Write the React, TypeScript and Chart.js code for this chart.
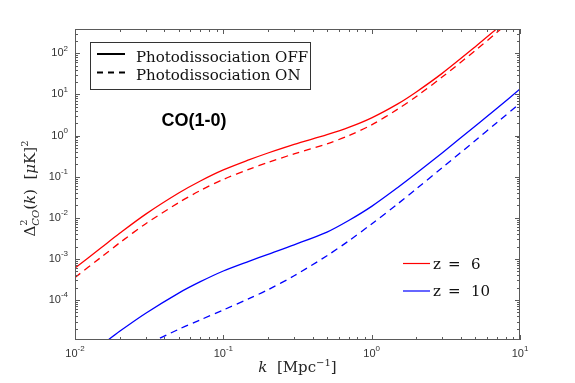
import { useEffect, useRef } from 'react';
import { Chart, registerables } from 'chart.js';

Chart.register(...registerables);

// ---- data ----
const kValues = [0.01, 0.015, 0.02, 0.03, 0.05, 0.07, 0.1, 0.15, 0.2, 0.3, 0.5, 0.7, 1, 1.5, 2, 3, 5, 7, 10];

// z = 6
const z6Off = [6.0e-4, 1.87e-3, 4.2e-3, 0.0123, 0.040, 0.0785, 0.146, 0.259, 0.377, 0.612, 1.05, 1.58, 2.7, 5.9, 11.5, 33, 145, 400, 1170];
const z6On = [3.55e-4, 1.1e-3, 2.47e-3, 7.2e-3, 0.0234, 0.0462, 0.0859, 0.153, 0.222, 0.36, 0.63, 1.0, 1.82, 4.4, 8.9, 26.8, 117, 324, 955];

// z = 10
const z10Off = [2.5e-6, 7.9e-6, 1.74e-5, 4.8e-5, 1.48e-4, 2.8e-4, 5.1e-4, 8.9e-4, 1.3e-3, 2.21e-3, 4.5e-3, 8.6e-3, 0.019, 0.0547, 0.121, 0.384, 1.71, 4.6, 13.6];
const z10On = [1.0e-6, 1.8e-6, 3.2e-6, 7.9e-6, 1.95e-5, 3.3e-5, 5.75e-5, 1.1e-4, 1.78e-4, 3.9e-4, 1.2e-3, 2.75e-3, 7.1e-3, 0.0219, 0.0505, 0.167, 0.76, 2.08, 6.1];

const xTickExponents = [-2, -1, 0, 1];
const yTickExponents = [-4, -3, -2, -1, 0, 1, 2];
const xRange = [0.01, 10];
const yRange = [1.07e-5, 390];

const styleLegendLabels = ['Photodissociation OFF', 'Photodissociation ON'];
const redshiftLabels = ['6', '10'];
const annotationText = 'CO(1-0)';

const RED = '#ff0000';
const BLUE = '#0000ff';
const SANS = '"Liberation Sans", Arial, Helvetica, sans-serif';
const SERIF = '"DejaVu Serif", "Liberation Serif", serif';

function toPoints(ks: number[], ys: number[]) {
  return ks.map((k, i) => ({ x: k, y: ys[i] }));
}

function drawPower(ctx: CanvasRenderingContext2D, exp: number, x: number, y: number, align: 'right' | 'center') {
  const base = '10';
  const sup = String(exp);
  ctx.font = `11px ${SANS}`;
  const wb = ctx.measureText(base).width;
  ctx.font = `8px ${SANS}`;
  const ws = ctx.measureText(sup).width;
  const w = wb + ws;
  const x0 = align === 'right' ? x - w : x - w / 2;
  ctx.textAlign = 'left';
  ctx.textBaseline = 'middle';
  ctx.font = `11px ${SANS}`;
  ctx.fillText(base, x0, y);
  ctx.font = `8px ${SANS}`;
  ctx.fillText(sup, x0 + wb, y - 5);
}

type Piece = { t: string; f: string; dy: number; stack?: boolean };

function drawPieces(ctx: CanvasRenderingContext2D, pieces: Piece[], cx: number, baseline: number) {
  const widths = pieces.map((p) => {
    ctx.font = p.f;
    return ctx.measureText(p.t).width;
  });
  let total = 0;
  pieces.forEach((p, i) => {
    if (p.stack) return;
    if (i > 0 && pieces[i - 1].stack) total += Math.max(widths[i], widths[i - 1]);
    else total += widths[i];
  });
  let x = cx - total / 2;
  ctx.textAlign = 'left';
  ctx.textBaseline = 'alphabetic';
  pieces.forEach((p, i) => {
    ctx.font = p.f;
    ctx.fillText(p.t, x, baseline + p.dy);
    if (p.stack) return;
    if (i > 0 && pieces[i - 1].stack) x += Math.max(widths[i], widths[i - 1]);
    else x += widths[i];
  });
}

const framePlugin = {
  id: 'frame',
  beforeDraw(chart: any) {
    const { ctx } = chart;
    ctx.save();
    ctx.fillStyle = '#ffffff';
    ctx.fillRect(0, 0, chart.width, chart.height);
    ctx.restore();
  },
  afterDraw(chart: any) {
    const { ctx, chartArea } = chart;
    const { left, right, top, bottom } = chartArea;
    const xs = chart.scales.x;
    const ys = chart.scales.y;
    ctx.save();
    // frame
    ctx.strokeStyle = '#5a5a5a';
    ctx.lineWidth = 1;
    ctx.strokeRect(left + 0.5, top + 0.5, right - left - 1, bottom - top - 1);
    // ticks
    ctx.beginPath();
    const lx = Math.log10(xs.min), hx = Math.log10(xs.max);
    for (let d = Math.floor(lx); d <= Math.ceil(hx); d++) {
      for (let m = 1; m <= 9; m++) {
        const v = m * Math.pow(10, d);
        if (v < xs.min * 0.9999 || v > xs.max * 1.0001) continue;
        const px = Math.round(xs.getPixelForValue(v)) + 0.5;
        const len = m === 1 ? 5 : 3;
        ctx.moveTo(px, bottom);
        ctx.lineTo(px, bottom - len);
        ctx.moveTo(px, top);
        ctx.lineTo(px, top + len);
      }
    }
    const ly = Math.log10(ys.min), hy = Math.log10(ys.max);
    for (let d = Math.floor(ly); d <= Math.ceil(hy); d++) {
      for (let m = 1; m <= 9; m++) {
        const v = m * Math.pow(10, d);
        if (v < ys.min || v > ys.max) continue;
        const py = Math.round(ys.getPixelForValue(v)) + 0.5;
        const len = m === 1 ? 5 : 3;
        ctx.moveTo(left, py);
        ctx.lineTo(left + len, py);
        ctx.moveTo(right, py);
        ctx.lineTo(right - len, py);
      }
    }
    ctx.stroke();

    // tick labels
    ctx.fillStyle = '#333333';
    xTickExponents.forEach((e) => {
      const px = xs.getPixelForValue(Math.pow(10, e));
      drawPower(ctx, e, px, bottom + 14, 'center');
    });
    yTickExponents.forEach((e) => {
      const py = ys.getPixelForValue(Math.pow(10, e));
      drawPower(ctx, e, left - 7, py, 'right');
    });

    // axis titles
    ctx.fillStyle = '#262626';
    drawPieces(
      ctx,
      [
        { t: 'k', f: `italic 15px ${SERIF}`, dy: 0 },
        { t: '  [Mpc', f: `15px ${SERIF}`, dy: 0 },
        { t: '\u22121', f: `10px ${SERIF}`, dy: -6 },
        { t: ']', f: `15px ${SERIF}`, dy: 0 },
      ],
      (left + right) / 2,
      bottom + 32
    );
    ctx.save();
    ctx.translate(35, (top + bottom) / 2 + 4);
    ctx.rotate(-Math.PI / 2);
    drawPieces(
      ctx,
      [
        { t: '\u0394', f: `15px ${SERIF}`, dy: 0 },
        { t: '2', f: `10px ${SERIF}`, dy: -8, stack: true },
        { t: 'CO', f: `italic 10px ${SERIF}`, dy: 4 },
        { t: '(', f: `15px ${SERIF}`, dy: 0 },
        { t: 'k', f: `italic 15px ${SERIF}`, dy: 0 },
        { t: ')  [', f: `15px ${SERIF}`, dy: 0 },
        { t: '\u03bc', f: `italic 15px ${SERIF}`, dy: 0 },
        { t: 'K]', f: `15px ${SERIF}`, dy: 0 },
        { t: '2', f: `10px ${SERIF}`, dy: -7 },
      ],
      0,
      0
    );
    ctx.restore();

    // annotation
    ctx.fillStyle = '#000000';
    ctx.font = `bold 18px ${SANS}`;
    ctx.textAlign = 'left';
    ctx.textBaseline = 'alphabetic';
    ctx.fillText(annotationText, 161.5, 126);

    // legend 1 (line styles)
    ctx.fillStyle = '#ffffff';
    ctx.fillRect(90.5, 42.5, 220, 47);
    ctx.strokeStyle = '#333333';
    ctx.lineWidth = 1;
    ctx.strokeRect(90.5, 42.5, 220, 47);
    ctx.strokeStyle = '#000000';
    ctx.lineWidth = 2;
    ctx.beginPath();
    ctx.moveTo(97, 54);
    ctx.lineTo(125, 54);
    ctx.stroke();
    ctx.setLineDash([6, 5]);
    ctx.beginPath();
    ctx.moveTo(97, 72.5);
    ctx.lineTo(125, 72.5);
    ctx.stroke();
    ctx.setLineDash([]);
    ctx.fillStyle = '#111111';
    ctx.font = `15px ${SERIF}`;
    ctx.textAlign = 'left';
    ctx.textBaseline = 'alphabetic';
    ctx.fillText(styleLegendLabels[0], 136, 61.5);
    ctx.fillText(styleLegendLabels[1], 136, 80);

    // legend 2 (redshift)
    const rows = [
      { c: RED, y: 263.5, v: redshiftLabels[0] },
      { c: BLUE, y: 291, v: redshiftLabels[1] },
    ];
    rows.forEach((r) => {
      ctx.strokeStyle = r.c;
      ctx.lineWidth = 1.2;
      ctx.beginPath();
      ctx.moveTo(403, r.y);
      ctx.lineTo(430, r.y);
      ctx.stroke();
      ctx.fillStyle = '#111111';
      ctx.font = `15px ${SERIF}`;
      ctx.textBaseline = 'alphabetic';
      ctx.fillText('z', 433, r.y + 5);
      ctx.fillText('=', 448, r.y + 5);
      ctx.fillText(r.v, 471, r.y + 5);
    });

    ctx.restore();
  },
};

export default function App() {
  const ref = useRef<HTMLCanvasElement | null>(null);

  useEffect(() => {
    if (!ref.current) return;
    const common = { pointRadius: 0, borderWidth: 1.3, fill: false, tension: 0.3, clip: 0 };
    const chart = new Chart(ref.current, {
      type: 'line',
      data: {
        datasets: [
          { label: 'z = 6, Photodissociation OFF', data: toPoints(kValues, z6Off), borderColor: RED, ...common },
          { label: 'z = 6, Photodissociation ON', data: toPoints(kValues, z6On), borderColor: RED, borderDash: [7, 5], ...common },
          { label: 'z = 10, Photodissociation OFF', data: toPoints(kValues, z10Off), borderColor: BLUE, ...common },
          { label: 'z = 10, Photodissociation ON', data: toPoints(kValues, z10On), borderColor: BLUE, borderDash: [7, 5], ...common },
        ],
      },
      options: {
        animation: false,
        responsive: true,
        maintainAspectRatio: false,
        layout: { padding: { top: 29, right: 55, left: 0, bottom: 0 } },
        plugins: { legend: { display: false }, tooltip: { enabled: false } },
        scales: {
          x: {
            type: 'logarithmic',
            min: xRange[0],
            max: xRange[1],
            ticks: { display: false },
            grid: { display: false },
            border: { display: false },
            afterFit: (s: any) => {
              s.height = 43;
            },
          },
          y: {
            type: 'logarithmic',
            min: yRange[0],
            max: yRange[1],
            ticks: { display: false },
            grid: { display: false },
            border: { display: false },
            afterFit: (s: any) => {
              s.width = 75;
            },
          },
        },
      },
      plugins: [framePlugin],
    });
    return () => chart.destroy();
  }, []);

  return (
    <div style={{ position: 'fixed', left: 0, top: 0, width: 575, height: 383, background: '#fff' }}>
      <canvas ref={ref} />
    </div>
  );
}
